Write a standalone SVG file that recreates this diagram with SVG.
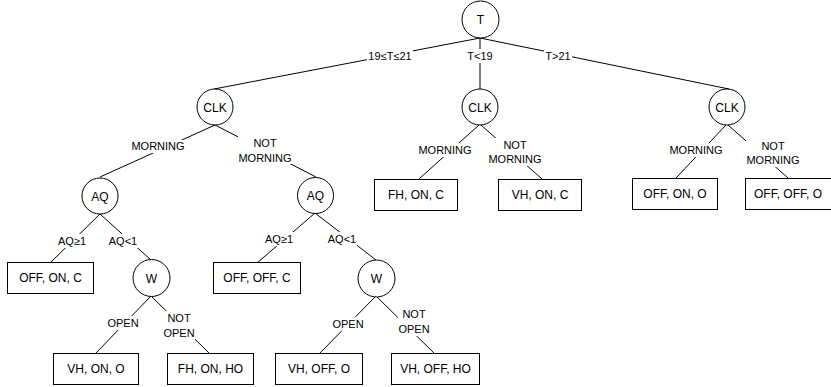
<svg xmlns="http://www.w3.org/2000/svg" width="831" height="387" viewBox="0 0 831 387">
<style>
.c{fill:#fff;stroke:#000;stroke-width:1}
.b{fill:#fff;stroke:#000;stroke-width:1}
.e{stroke:#000;stroke-width:1;fill:none}
.bg{fill:#fff}
.t{font-family:"Liberation Sans",Arial,sans-serif;font-size:12px;text-anchor:middle;fill:#000}
.l{font-family:"Liberation Sans",Arial,sans-serif;font-size:11px;text-anchor:middle;fill:#000}
</style>
<rect width="831" height="387" fill="#fff"/>
<g id="connectors">
<line class="e" x1="480" y1="38" x2="214" y2="89"/>
<line class="e" x1="480" y1="38" x2="480" y2="89"/>
<line class="e" x1="480" y1="38" x2="729" y2="89"/>
<line class="e" x1="215" y1="125" x2="100" y2="177"/>
<line class="e" x1="215" y1="125" x2="316" y2="177"/>
<line class="e" x1="479" y1="125" x2="419" y2="179"/>
<line class="e" x1="481" y1="125" x2="542" y2="179"/>
<line class="e" x1="726" y1="125" x2="676" y2="178"/>
<line class="e" x1="728" y1="125" x2="788" y2="178"/>
<line class="e" x1="100" y1="214" x2="50" y2="263"/>
<line class="e" x1="100" y1="214" x2="151" y2="260"/>
<line class="e" x1="315" y1="213" x2="257" y2="263"/>
<line class="e" x1="315" y1="213" x2="376" y2="260"/>
<line class="e" x1="151" y1="296" x2="96" y2="353"/>
<line class="e" x1="151" y1="296" x2="209" y2="353"/>
<line class="e" x1="376" y1="296" x2="319" y2="354"/>
<line class="e" x1="376" y1="296" x2="435" y2="354"/>
<g id="labels">
<rect class="bg" x="367" y="49" width="46" height="14"/><text class="l" x="390" y="60">19≤T≤21</text>
<rect class="bg" x="466" y="49" width="28" height="14"/><text class="l" x="480" y="60">T&lt;19</text>
<rect class="bg" x="544" y="49" width="28" height="14"/><text class="l" x="558" y="60">T&gt;21</text>
<rect class="bg" x="131" y="140" width="54" height="13"/><text class="l" x="158" y="150">MORNING</text>
<rect class="bg" x="238" y="136" width="54" height="28"/><text class="l" x="265" y="147">NOT</text><text class="l" x="265" y="162">MORNING</text>
<rect class="bg" x="418" y="143" width="54" height="14"/><text class="l" x="445" y="154">MORNING</text>
<rect class="bg" x="488" y="138" width="54" height="28"/><text class="l" x="515" y="149">NOT</text><text class="l" x="515" y="163">MORNING</text>
<rect class="bg" x="669" y="143" width="54" height="14"/><text class="l" x="696" y="154">MORNING</text>
<rect class="bg" x="746" y="139" width="54" height="28"/><text class="l" x="773" y="150">NOT</text><text class="l" x="773" y="164">MORNING</text>
<rect class="bg" x="58" y="234" width="29" height="14"/><text class="l" x="72" y="245">AQ≥1</text>
<rect class="bg" x="109" y="234" width="29" height="14"/><text class="l" x="123" y="245">AQ&lt;1</text>
<rect class="bg" x="265" y="232" width="29" height="14"/><text class="l" x="279" y="243">AQ≥1</text>
<rect class="bg" x="328" y="232" width="29" height="14"/><text class="l" x="342" y="243">AQ&lt;1</text>
<rect class="bg" x="107" y="316" width="32" height="14"/><text class="l" x="123" y="327">OPEN</text>
<rect class="bg" x="163" y="311" width="32" height="29"/><text class="l" x="179" y="322">NOT</text><text class="l" x="179" y="337">OPEN</text>
<rect class="bg" x="332" y="317" width="32" height="14"/><text class="l" x="348" y="328">OPEN</text>
<rect class="bg" x="398" y="307" width="32" height="29"/><text class="l" x="414" y="318">NOT</text><text class="l" x="414" y="333">OPEN</text>
</g>
</g>
<g id="n-T"><circle class="c" cx="480.5" cy="19.5" r="18.5"/><text class="t" x="480.5" y="24">T</text></g>
<g id="n-CLK1"><circle class="c" cx="215" cy="107" r="18"/><text class="t" x="215" y="111.5">CLK</text></g>
<g id="n-CLK2"><circle class="c" cx="480" cy="107" r="18"/><text class="t" x="480" y="111.5">CLK</text></g>
<g id="n-CLK3"><circle class="c" cx="727" cy="107" r="18"/><text class="t" x="727" y="111.5">CLK</text></g>
<g id="n-AQ1"><circle class="c" cx="100" cy="196" r="18"/><text class="t" x="100" y="200.5">AQ</text></g>
<g id="n-AQ2"><circle class="c" cx="315.5" cy="195.5" r="18"/><text class="t" x="315.5" y="200">AQ</text></g>
<g id="n-W1"><circle class="c" cx="151.5" cy="278" r="18.5"/><text class="t" x="151.5" y="282.5">W</text></g>
<g id="n-W2"><circle class="c" cx="376.5" cy="278.5" r="18.5"/><text class="t" x="376.5" y="283">W</text></g>
<g id="n-FHONC"><rect class="b" x="374.5" y="179.5" width="83" height="31"/><text class="t" x="416" y="199">FH, ON, C</text></g>
<g id="n-VHONC"><rect class="b" x="498.5" y="179.5" width="83" height="31"/><text class="t" x="540" y="199">VH, ON, C</text></g>
<g id="n-OFFONO"><rect class="b" x="632.5" y="178.5" width="85" height="31"/><text class="t" x="675" y="198">OFF, ON, O</text></g>
<g id="n-OFFOFFO"><rect class="b" x="745.5" y="178.5" width="87" height="31"/><text class="t" x="788" y="198">OFF, OFF, O</text></g>
<g id="n-OFFONC"><rect class="b" x="7.5" y="262.5" width="86" height="31"/><text class="t" x="50.5" y="282">OFF, ON, C</text></g>
<g id="n-OFFOFFC"><rect class="b" x="213.5" y="262.5" width="87" height="31"/><text class="t" x="257" y="282">OFF, OFF, C</text></g>
<g id="n-VHONO"><rect class="b" x="53.5" y="353.5" width="85" height="31"/><text class="t" x="96" y="373">VH, ON, O</text></g>
<g id="n-FHONHO"><rect class="b" x="167.5" y="353.5" width="86" height="31"/><text class="t" x="210.5" y="373">FH, ON, HO</text></g>
<g id="n-VHOFFO"><rect class="b" x="275.5" y="353.5" width="87" height="31"/><text class="t" x="319" y="373">VH, OFF, O</text></g>
<g id="n-VHOFFHO"><rect class="b" x="391.5" y="353.5" width="88" height="31"/><text class="t" x="435.5" y="373">VH, OFF, HO</text></g>
</svg>
